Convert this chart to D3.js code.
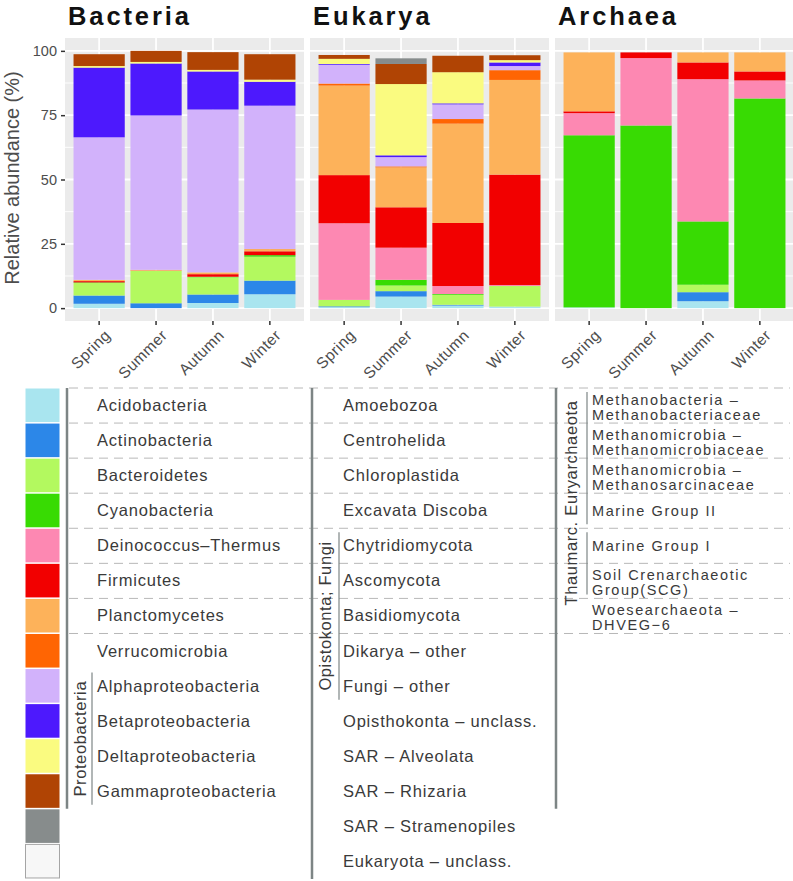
<!DOCTYPE html>
<html>
<head>
<meta charset="utf-8">
<script src="https://cdn.jsdelivr.net/npm/d3@7"></script>
<style>
  body { margin: 0; background: #fff; }
  svg { display: block; font-family: "Liberation Sans", Arial, sans-serif; }
</style>
</head>
<body>
<svg id="chart" width="793" height="881"></svg>
<script>
// seasons on x, stacked relative abundance (%) on y
const seasons = ["Spring", "Summer", "Autumn", "Winter"];
const yTicks = [0, 25, 50, 75, 100];
const yMinor = [12.5, 37.5, 62.5, 87.5];

// one colour per legend row, shared by the three domains
const palette = ["#A9E5EF", "#2C87E8", "#B3F95F", "#38DB03", "#FD88B2", "#F20000", "#FDB25A",
                 "#FF6503", "#D2B2FB", "#4D19FD", "#FAFB80", "#B04404", "#878C8C", "#F7F7F7"];

const bacteriaTaxa = ["Acidobacteria", "Actinobacteria", "Bacteroidetes", "Cyanobacteria",
  "Deinococcus\u2013Thermus", "Firmicutes", "Planctomycetes", "Verrucomicrobia",
  "Alphaproteobacteria", "Betaproteobacteria", "Deltaproteobacteria", "Gammaproteobacteria"];

const eukaryaTaxa = ["Amoebozoa", "Centrohelida", "Chloroplastida", "Excavata Discoba",
  "Chytridiomycota", "Ascomycota", "Basidiomycota", "Dikarya \u2013 other", "Fungi \u2013 other",
  "Opisthokonta \u2013 unclass.", "SAR \u2013 Alveolata", "SAR \u2013 Rhizaria",
  "SAR \u2013 Stramenopiles", "Eukaryota \u2013 unclass."];

const archaeaTaxa = ["Methanobacteria \u2013\nMethanobacteriaceae", "Methanomicrobia \u2013\nMethanomicrobiaceae",
  "Methanomicrobia \u2013\nMethanosarcinaceae", "Marine Group II", "Marine Group I",
  "Soil Crenarchaeotic\nGroup(SCG)", "Woesearchaeota \u2013\nDHVEG\u22126"];

// rows = seasons, columns = taxa in legend order
const bacteriaValues = [
  [1.7, 3.2, 4.9, 0.2, 0, 0.5, 0.5, 0, 55.4, 27.1, 0.6, 4.6],
  [0, 1.9, 12.6, 0, 0, 0.1, 0.3, 0, 60.0, 20.2, 0.6, 4.3],
  [2.0, 3.3, 6.7, 0.2, 0, 1.0, 0.7, 0, 63.3, 14.8, 0.6, 6.9],
  [5.4, 5.3, 9.3, 0.6, 0, 1.5, 0.8, 0.1, 55.7, 9.3, 0.8, 9.9]
];
const eukaryaValues = [
  [0.4, 0.3, 2.5, 0, 29.8, 18.7, 34.8, 0.8, 7.3, 0.3, 2.0, 1.5, 0, 0],
  [4.5, 2.1, 2.2, 2.2, 12.5, 15.7, 15.5, 0.4, 3.6, 0.7, 27.7, 7.8, 2.2, 0],
  [1.0, 0.3, 3.9, 0.3, 3.1, 24.5, 38.6, 1.8, 5.7, 0.4, 12.1, 6.4, 0, 0],
  [0.6, 0, 8.0, 0, 0.4, 42.9, 36.8, 3.8, 1.6, 1.4, 0.9, 1.9, 0, 0]
];
const archaeaValues = [
  [0.3, 0, 0, 66.9, 8.6, 0.7, 22.9],
  [0, 0, 0, 71.0, 26.2, 2.2, 0],
  [2.7, 3.5, 2.9, 24.6, 55.3, 6.5, 3.9],
  [0, 0, 0, 81.5, 7.0, 3.5, 7.4]
];

const svg = d3.select("#chart");

const panelTop = 38, panelBottom = 321, panelW = 239;
const y = d3.scaleLinear().domain([-5, 105]).range([panelBottom, panelTop]);

function drawPanel(left, title, values, showY) {
  const x = d3.scaleBand().domain(seasons)
      .range([left, left + panelW])
      .paddingInner(0.1).paddingOuter(0.15);
  const g = svg.append("g");

  g.append("rect")
      .attr("x", left).attr("y", panelTop)
      .attr("width", panelW).attr("height", panelBottom - panelTop)
      .attr("fill", "#EBEBEB");

  g.selectAll(".minor").data(yMinor).enter().append("line")
      .attr("x1", left).attr("x2", left + panelW)
      .attr("y1", d => y(d)).attr("y2", d => y(d))
      .attr("stroke", "#fff").attr("stroke-width", 0.9);
  g.selectAll(".major").data(yTicks).enter().append("line")
      .attr("x1", left).attr("x2", left + panelW)
      .attr("y1", d => y(d)).attr("y2", d => y(d))
      .attr("stroke", "#fff").attr("stroke-width", 1.8);
  g.selectAll(".vmajor").data(seasons).enter().append("line")
      .attr("x1", d => x(d) + x.bandwidth() / 2).attr("x2", d => x(d) + x.bandwidth() / 2)
      .attr("y1", panelTop).attr("y2", panelBottom)
      .attr("stroke", "#fff").attr("stroke-width", 1.8);

  const rows = seasons.map((s, j) => {
    const o = { season: s };
    values[j].forEach((v, k) => o[k] = v);
    return o;
  });
  const series = d3.stack().keys(d3.range(values[0].length))(rows);

  g.selectAll(".layer").data(series).enter().append("g")
      .attr("fill", d => palette[d.key])
    .selectAll("rect").data(d => d).enter().append("rect")
      .attr("x", d => x(d.data.season))
      .attr("width", x.bandwidth())
      .attr("y", d => y(d[1]))
      .attr("height", d => y(d[0]) - y(d[1]));

  // x axis
  const xa = g.append("g")
      .attr("transform", `translate(0,${panelBottom})`)
      .call(d3.axisBottom(x).tickSize(4));
  xa.select(".domain").remove();
  xa.selectAll(".tick line").attr("stroke", "#333").attr("stroke-width", 1.5);
  xa.selectAll(".tick text")
      .attr("x", 0).attr("y", 0).attr("dy", "0.75em")
      .attr("transform", "translate(4,7) rotate(-45)")
      .attr("text-anchor", "end")
      .attr("font-size", 15.5)
      .attr("letter-spacing", 0.5)
      .attr("fill", "#4d4d4d");

  if (showY) {
    const ya = g.append("g")
        .attr("transform", `translate(${left},0)`)
        .call(d3.axisLeft(y).tickValues(yTicks).tickSize(4).tickPadding(4));
    ya.select(".domain").remove();
    ya.selectAll(".tick line").attr("stroke", "#333").attr("stroke-width", 1.5);
    ya.selectAll(".tick text").attr("font-size", 14.5).attr("fill", "#4d4d4d");
  }

  svg.append("text")
      .attr("x", left + 3).attr("y", 25)
      .attr("font-size", 25.5).attr("font-weight", "bold")
      .attr("letter-spacing", 2.9)
      .attr("fill", "#111")
      .text(title);
}

drawPanel(65, "Bacteria", bacteriaValues, true);
drawPanel(310, "Eukarya", eukaryaValues, false);
drawPanel(555, "Archaea", archaeaValues, false);

svg.append("text")
    .attr("transform", "translate(19,178) rotate(-90)")
    .attr("text-anchor", "middle")
    .attr("font-size", 20)
    .attr("fill", "#4d4d4d")
    .text("Relative abundance (%)");

// ---- legend ----
const legendTop = 388, rowH = 35.07;
const lineColor = "#7d8585";
const leg = svg.append("g");

leg.selectAll(".sw").data(palette).enter().append("rect")
    .attr("x", 25.5).attr("y", (d, i) => legendTop + i * rowH + 0.5)
    .attr("width", 34).attr("height", rowH - 1.5)
    .attr("fill", d => d)
    .attr("stroke", (d, i) => i === palette.length - 1 ? "#a5a5a5" : "none");

leg.selectAll(".dash").data(d3.range(8)).enter().append("line")
    .attr("x1", 69).attr("x2", 790)
    .attr("y1", d => legendTop + d * rowH).attr("y2", d => legendTop + d * rowH)
    .attr("stroke", "#b8b8b8").attr("stroke-width", 1)
    .attr("stroke-dasharray", "9,6");

const columns = [
  { lineX: 67, labelX: 97, taxa: bacteriaTaxa, lineRows: 12, size: 16.5, spacing: 0.8,
    groups: [{ name: "Proteobacteria", from: 8, to: 11, x: 92, textX: 86 }] },
  { lineX: 312, labelX: 343, taxa: eukaryaTaxa, lineRows: 14, size: 16.5, spacing: 0.8,
    groups: [{ name: "Opistokonta; Fungi", from: 4, to: 8, x: 339, textX: 331 }] },
  { lineX: 556, labelX: 592, taxa: archaeaTaxa, lineRows: 12, size: 14.5, spacing: 1.6,
    groups: [{ name: "Euryarchaeota", from: 0, to: 3, x: 587, textX: 577 },
             { name: "Thaumarc.", from: 4, to: 5, x: 587, textX: 577 }] }
];

columns.forEach(col => {
  leg.append("line")
      .attr("x1", col.lineX).attr("x2", col.lineX)
      .attr("y1", legendTop).attr("y2", legendTop + col.lineRows * rowH)
      .attr("stroke", lineColor).attr("stroke-width", 2.5);

  col.taxa.forEach((t, i) => {
    const c = legendTop + (i + 0.5) * rowH;
    const lines = t.split("\n");
    const txt = leg.append("text")
        .attr("x", col.labelX)
        .attr("font-size", col.size)
        .attr("letter-spacing", col.spacing)
        .attr("fill", "#3a3a3a");
    if (lines.length === 1) {
      txt.attr("y", c + 5.5).text(t);
    } else {
      lines.forEach((l, k) => txt.append("tspan")
          .attr("x", col.labelX).attr("y", c - 0.5 + k * 14.5).text(l));
    }
  });

  col.groups.forEach(gr => {
    const y0 = legendTop + gr.from * rowH + 4;
    const y1 = legendTop + (gr.to + 1) * rowH - 4;
    leg.append("line")
        .attr("x1", gr.x).attr("x2", gr.x)
        .attr("y1", y0).attr("y2", y1)
        .attr("stroke", lineColor).attr("stroke-width", 1.2);
    leg.append("text")
        .attr("transform", `translate(${gr.textX},${(y0 + y1) / 2}) rotate(-90)`)
        .attr("text-anchor", "middle")
        .attr("font-size", 16.5)
        .attr("letter-spacing", 0.6)
        .attr("fill", "#3a3a3a")
        .text(gr.name);
  });
});
</script>
</body>
</html>
